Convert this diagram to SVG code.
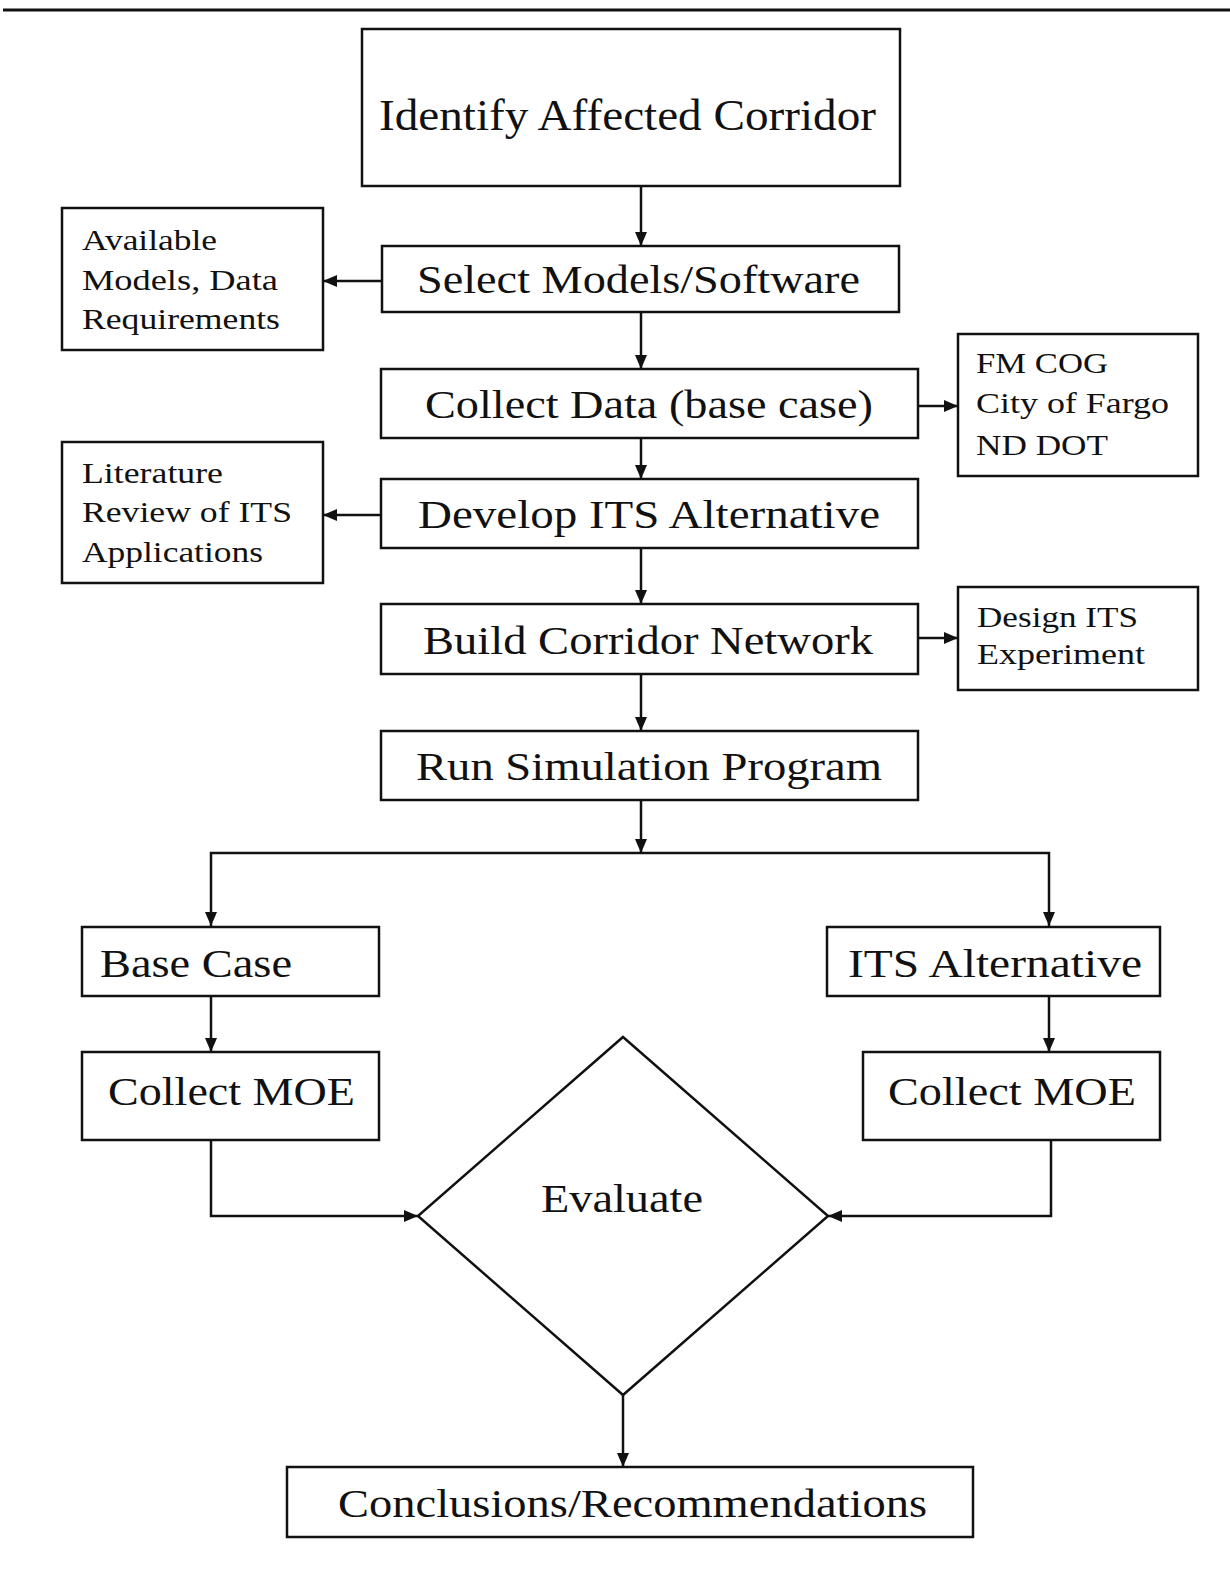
<svg xmlns="http://www.w3.org/2000/svg" width="1230" height="1570" viewBox="0 0 1230 1570">
<defs>
<style>
.box{fill:#fff;stroke:#111;stroke-width:2.5}
.ln{fill:none;stroke:#111;stroke-width:2.5}
text{font-family:"Liberation Serif","Times New Roman",serif;fill:#111}
.big{font-size:44px}
.mid{font-size:41px}
.sm{font-size:29px}
</style>
<marker id="ah" viewBox="0 0 14 12" refX="14" refY="6" markerWidth="14" markerHeight="12" markerUnits="userSpaceOnUse" orient="auto">
<path d="M0,0 L14,6 L0,12 Z" fill="#111"/>
</marker>
</defs>
<rect width="1230" height="1570" fill="#fff"/>
<line x1="3" y1="10" x2="1230" y2="10" stroke="#111" stroke-width="3"/>

<g id="connectors">
<path class="ln" d="M641,186 V246" marker-end="url(#ah)"/>
<path class="ln" d="M641,312 V369" marker-end="url(#ah)"/>
<path class="ln" d="M382,281 H323" marker-end="url(#ah)"/>
<path class="ln" d="M918,406 H958" marker-end="url(#ah)"/>
<path class="ln" d="M641,438 V479" marker-end="url(#ah)"/>
<path class="ln" d="M381,515 H323" marker-end="url(#ah)"/>
<path class="ln" d="M641,548 V604" marker-end="url(#ah)"/>
<path class="ln" d="M918,638 H958" marker-end="url(#ah)"/>
<path class="ln" d="M641,674 V731" marker-end="url(#ah)"/>
<path class="ln" d="M641,800 V853" marker-end="url(#ah)"/>
<path class="ln" d="M641,853 H211 V926" marker-end="url(#ah)"/>
<path class="ln" d="M641,853 H1049 V926" marker-end="url(#ah)"/>
<path class="ln" d="M211,996 V1052" marker-end="url(#ah)"/>
<path class="ln" d="M1049,996 V1052" marker-end="url(#ah)"/>
<path class="ln" d="M211,1140 V1216 H418" marker-end="url(#ah)"/>
<path class="ln" d="M1051,1140 V1216 H828" marker-end="url(#ah)"/>
<path class="ln" d="M623,1395 V1467" marker-end="url(#ah)"/>
</g>

<g id="identify">
<rect class="box" x="362" y="29" width="538" height="157"/>
<text class="big" x="379" y="130" textLength="497" lengthAdjust="spacingAndGlyphs">Identify Affected Corridor</text>
</g>
<g id="select">
<rect class="box" x="382" y="246" width="517" height="66"/>
<text class="mid" x="417" y="293" textLength="443" lengthAdjust="spacingAndGlyphs">Select Models/Software</text>
</g>
<g id="available">
<rect class="box" x="62" y="208" width="261" height="142"/>
<text class="sm" x="82" y="250" textLength="135" lengthAdjust="spacingAndGlyphs">Available</text>
<text class="sm" x="82" y="290" textLength="196" lengthAdjust="spacingAndGlyphs">Models, Data</text>
<text class="sm" x="82" y="329" textLength="198" lengthAdjust="spacingAndGlyphs">Requirements</text>
</g>
<g id="collect-data">
<rect class="box" x="381" y="369" width="537" height="69"/>
<text class="mid" x="425" y="418" textLength="448" lengthAdjust="spacingAndGlyphs">Collect Data (base case)</text>
</g>
<g id="sources">
<rect class="box" x="958" y="334" width="240" height="142"/>
<text class="sm" x="976" y="373" textLength="132" lengthAdjust="spacingAndGlyphs">FM COG</text>
<text class="sm" x="976" y="413" textLength="193" lengthAdjust="spacingAndGlyphs">City of Fargo</text>
<text class="sm" x="976" y="455" textLength="132" lengthAdjust="spacingAndGlyphs">ND DOT</text>
</g>
<g id="develop">
<rect class="box" x="381" y="479" width="537" height="69"/>
<text class="mid" x="418" y="528" textLength="462" lengthAdjust="spacingAndGlyphs">Develop ITS Alternative</text>
</g>
<g id="literature">
<rect class="box" x="62" y="442" width="261" height="141"/>
<text class="sm" x="82" y="483" textLength="141" lengthAdjust="spacingAndGlyphs">Literature</text>
<text class="sm" x="82" y="522" textLength="210" lengthAdjust="spacingAndGlyphs">Review of ITS</text>
<text class="sm" x="82" y="562" textLength="181" lengthAdjust="spacingAndGlyphs">Applications</text>
</g>
<g id="build">
<rect class="box" x="381" y="604" width="537" height="70"/>
<text class="mid" x="423" y="654" textLength="450" lengthAdjust="spacingAndGlyphs">Build Corridor Network</text>
</g>
<g id="design">
<rect class="box" x="958" y="587" width="240" height="103"/>
<text class="sm" x="977" y="627" textLength="161" lengthAdjust="spacingAndGlyphs">Design ITS</text>
<text class="sm" x="977" y="664" textLength="168" lengthAdjust="spacingAndGlyphs">Experiment</text>
</g>
<g id="run">
<rect class="box" x="381" y="731" width="537" height="69"/>
<text class="mid" x="416" y="780" textLength="466" lengthAdjust="spacingAndGlyphs">Run Simulation Program</text>
</g>
<g id="base-case">
<rect class="box" x="82" y="927" width="297" height="69"/>
<text class="mid" x="100" y="977" textLength="192" lengthAdjust="spacingAndGlyphs">Base Case</text>
</g>
<g id="its-alt">
<rect class="box" x="827" y="927" width="333" height="69"/>
<text class="mid" x="848" y="977" textLength="294" lengthAdjust="spacingAndGlyphs">ITS Alternative</text>
</g>
<g id="moe-left">
<rect class="box" x="82" y="1052" width="297" height="88"/>
<text class="mid" x="108" y="1105" textLength="247" lengthAdjust="spacingAndGlyphs">Collect MOE</text>
</g>
<g id="moe-right">
<rect class="box" x="863" y="1052" width="297" height="88"/>
<text class="mid" x="888" y="1105" textLength="248" lengthAdjust="spacingAndGlyphs">Collect MOE</text>
</g>
<g id="evaluate">
<polygon class="box" points="623,1037 828,1216 623,1395 418,1216" stroke-width="2"/>
<text class="mid" x="541" y="1212" textLength="162" lengthAdjust="spacingAndGlyphs">Evaluate</text>
</g>
<g id="conclusions">
<rect class="box" x="287" y="1467" width="686" height="70"/>
<text class="mid" x="338" y="1517" textLength="589" lengthAdjust="spacingAndGlyphs">Conclusions/Recommendations</text>
</g>
</svg>
